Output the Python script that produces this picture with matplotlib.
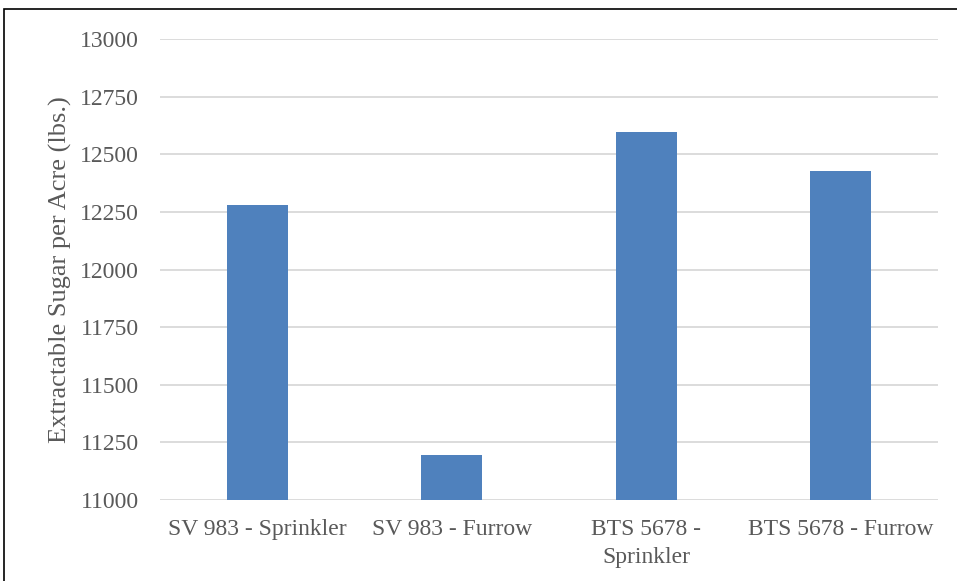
import matplotlib.pyplot as plt
from matplotlib.patches import Rectangle

# valeurs
categories = ["SV 983 - Sprinkler", "SV 983 - Furrow", "BTS 5678 -\nSprinkler", "BTS 5678 - Furrow"]
sugar = [12278, 11197, 12595, 12426]
yticks = [11000, 11250, 11500, 11750, 12000, 12250, 12500, 12750, 13000]

plt.rcParams['font.family'] = ['Liberation Serif', 'DejaVu Serif']

fig = plt.figure(figsize=(9.57, 5.81), dpi=100)
ax = fig.add_axes([160 / 957, 1 - 500 / 581, 778 / 957, 461 / 581])

x = range(len(categories))
ax.bar(x, sugar, width=0.315, color='#4f81bd', zorder=3)

ax.set_xlim(-0.5, len(categories) - 0.5)
ax.set_ylim(11000, 13000)
ax.set_yticks(yticks)
ax.set_xticks(list(x))
ax.set_xticklabels(categories, linespacing=1.4)
ax.grid(axis='y', color='#d9d9d9', linewidth=1.3, zorder=0)
ax.tick_params(length=0, labelsize=17, colors='#595959')
ax.tick_params(axis='y', pad=15)
ax.tick_params(axis='x', pad=14)
for s in ax.spines.values():
    s.set_visible(False)

ax.set_ylabel("Extractable Sugar per Acre (lbs.)", fontsize=19, color='#595959', labelpad=6)

# cadre noir autour de la figure
fig.patches.append(Rectangle((4 / 957, -0.1), 1.2, 1.1 - 9.5 / 581, transform=fig.transFigure,
                             fill=False, edgecolor='black', linewidth=1.2))

fig.savefig("out.png", dpi=100)
